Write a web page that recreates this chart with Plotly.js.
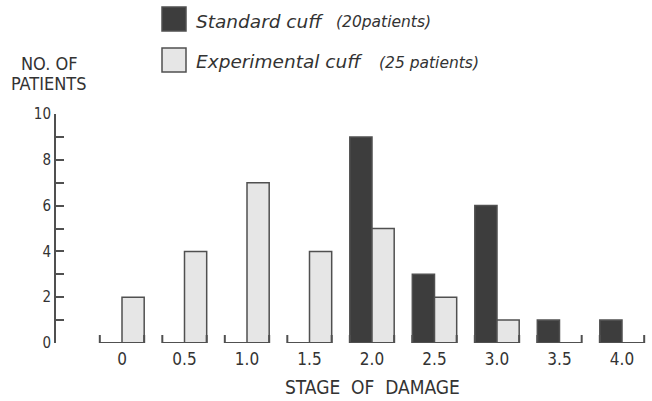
<!DOCTYPE html>
<html>
<head>
<meta charset="utf-8">
<script src="https://cdn.plot.ly/plotly-3.0.1.min.js"></script>
<style>html,body{margin:0;padding:0;background:#fff;}#chart{width:652px;height:401px;}</style>
</head>
<body>
<div id="chart"></div>
<script>
// ---- data ----
var stages = [0, 0.5, 1.0, 1.5, 2.0, 2.5, 3.0, 3.5, 4.0];
var stageLabels = ["0", "0.5", "1.0", "1.5", "2.0", "2.5", "3.0", "3.5", "4.0"];
var standardCuff = [0, 0, 0, 0, 9, 3, 6, 1, 1];
var experimentalCuff = [2, 4, 7, 4, 5, 2, 1, 0, 0];
var seriesNames = ["Standard cuff", "Experimental cuff"];
var seriesNotes = ["(20patients)", "(25 patients)"];
var yTicks = [0, 2, 4, 6, 8, 10];

// ---- style ----
var W = 652, H = 401;
var M = {l: 56, r: 0, t: 114, b: 58};
var darkFill = "#3d3d3d", lightFill = "#e6e6e6", edge = "#505050", ink = "#333333";
var condensed = "Liberation Sans Narrow, DejaVu Sans Condensed, Liberation Sans, sans-serif";
var italicFont = "DejaVu Sans, Liberation Sans, sans-serif";
var bargap = 0.29;
var xRange = [-0.528, -0.528 + (W - M.l - M.r) / 125];

function px(x) { return (x - M.l) / (W - M.l - M.r); }
function py(y) { return (H - M.b - y) / (H - M.t - M.b); }

var halfGroup = 0.5 * (1 - bargap) / 2;
var shapes = [];
stages.forEach(function (s) {
  shapes.push({
    type: "path", xref: "x", yref: "y", layer: "above",
    path: "M" + (s - halfGroup) + ",0.35 L" + (s - halfGroup) + ",0 L" + (s + halfGroup) + ",0 L" + (s + halfGroup) + ",0.35",
    line: {color: edge, width: 2}
  });
});
// legend boxes
shapes.push({type: "rect", xref: "paper", yref: "paper", x0: px(162), x1: px(186), y0: py(31), y1: py(7),
  fillcolor: darkFill, line: {color: edge, width: 1.5}});
shapes.push({type: "rect", xref: "paper", yref: "paper", x0: px(162), x1: px(186), y0: py(72), y1: py(48),
  fillcolor: lightFill, line: {color: edge, width: 1.5}});

var annotations = [
  {text: "<i>" + seriesNames[0] + "</i>", xref: "paper", yref: "paper", x: px(194), y: py(21), xanchor: "left", yanchor: "middle", showarrow: false, font: {family: italicFont, size: 18.5, color: ink}},
  {text: "<i>" + seriesNotes[0] + "</i>", xref: "paper", yref: "paper", x: px(334), y: py(22), xanchor: "left", yanchor: "middle", showarrow: false, font: {family: italicFont, size: 15.5, color: ink}},
  {text: "<i>" + seriesNames[1] + "</i>", xref: "paper", yref: "paper", x: px(194), y: py(62), xanchor: "left", yanchor: "middle", showarrow: false, font: {family: italicFont, size: 18.5, color: ink}},
  {text: "<i>" + seriesNotes[1] + "</i>", xref: "paper", yref: "paper", x: px(377), y: py(63), xanchor: "left", yanchor: "middle", showarrow: false, font: {family: italicFont, size: 15.5, color: ink}},
  {text: "NO. OF", xref: "paper", yref: "paper", x: px(49), y: py(64), xanchor: "center", yanchor: "middle", showarrow: false, font: {family: condensed, size: 18, color: ink}},
  {text: "PATIENTS", xref: "paper", yref: "paper", x: px(48), y: py(84), xanchor: "center", yanchor: "middle", showarrow: false, font: {family: condensed, size: 18, color: ink}},
  {text: "STAGE  OF  DAMAGE", xref: "paper", yref: "paper", x: px(372), y: py(387), xanchor: "center", yanchor: "middle", showarrow: false, font: {family: condensed, size: 19, color: ink}}
];

var traces = [
  {type: "bar", name: seriesNames[0], x: stages, y: standardCuff, marker: {color: darkFill, line: {color: edge, width: 1.5}}},
  {type: "bar", name: seriesNames[1], x: stages, y: experimentalCuff, marker: {color: lightFill, line: {color: edge, width: 1.5}}}
];

var layout = {
  width: W, height: H, margin: M,
  paper_bgcolor: "#fff", plot_bgcolor: "#fff",
  showlegend: false,
  barmode: "group", bargap: bargap, bargroupgap: 0,
  xaxis: {range: xRange, showline: false, showgrid: false, zeroline: false, ticks: "",
    tickmode: "array", tickvals: stages, ticktext: stageLabels, ticklabelstandoff: 4,
    tickfont: {family: condensed, size: 17, color: ink}},
  yaxis: {range: [0, 10], showline: true, linecolor: edge, linewidth: 2, showgrid: false, zeroline: false,
    ticks: "inside", ticklen: 8, tickwidth: 2, tickcolor: edge,
    tickmode: "array", tickvals: yTicks, ticktext: yTicks.map(String),
    minor: {tickvals: [1, 3, 5, 7, 9], ticks: "inside", ticklen: 8, tickwidth: 2, tickcolor: edge, showgrid: false},
    tickfont: {family: condensed, size: 15, color: ink}},
  shapes: shapes,
  annotations: annotations
};

Plotly.newPlot("chart", traces, layout, {displayModeBar: false, staticPlot: true});
</script>
</body>
</html>
